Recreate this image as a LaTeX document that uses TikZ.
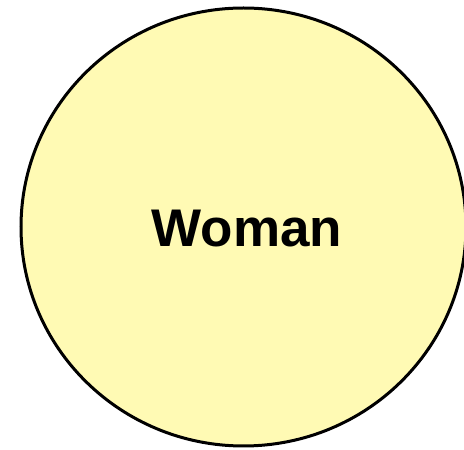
\documentclass[tikz,border=0pt]{standalone}
\usepackage{fontspec}
\setmainfont{Liberation Sans}
\usetikzlibrary{shapes.geometric}
\definecolor{womanyellow}{HTML}{FFFAB4}

\begin{document}
\begin{tikzpicture}[x=1pt, y=1pt,
  set/.style={ellipse, draw=black, fill=womanyellow, line width=3pt,
    minimum width=445pt, minimum height=438pt, inner sep=0pt},
  setlabel/.style={font=\fontsize{53}{60}\selectfont\bfseries, inner sep=0pt}]
  \useasboundingbox (0,0) rectangle (464,450);
  \node[set] (woman) at (243.5,223) {};
  \node[setlabel] (womanlabel) at ([xshift=3.5pt, yshift=-2pt]woman.center) {Woman};
\end{tikzpicture}
\end{document}
